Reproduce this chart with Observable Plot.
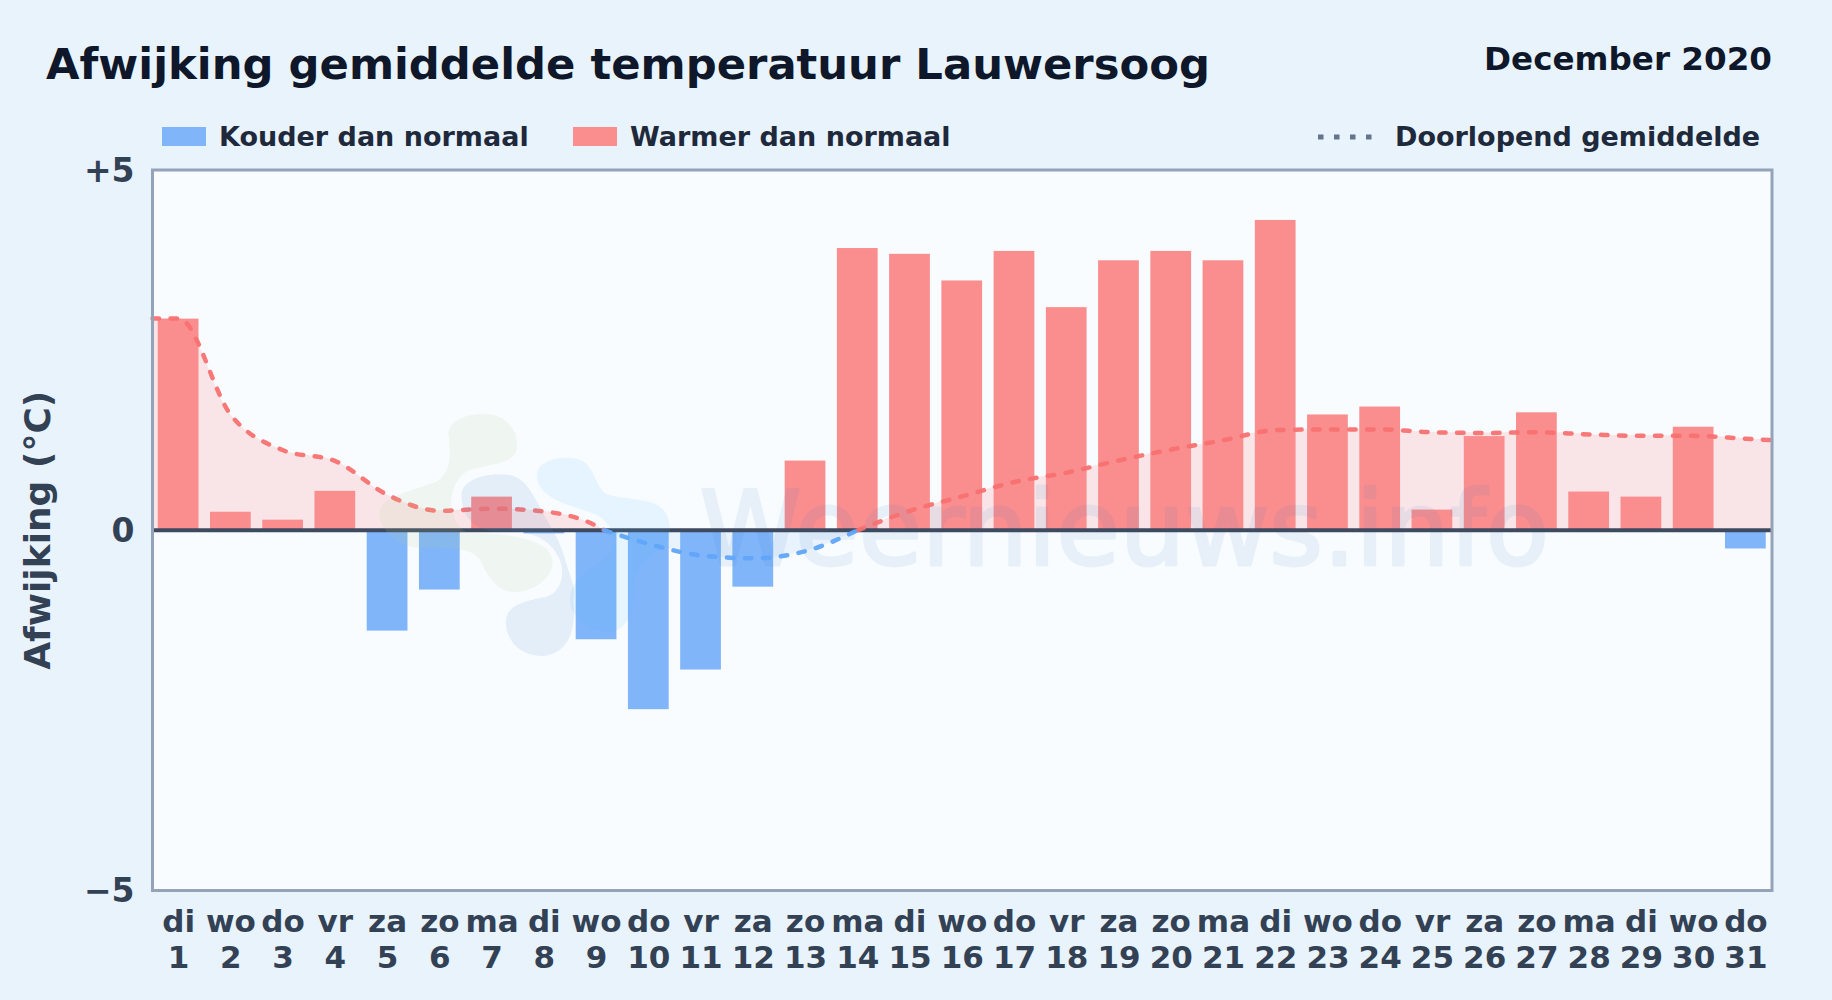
<!DOCTYPE html>
<html lang="nl">
<head>
<meta charset="utf-8">
<script src="https://cdn.jsdelivr.net/npm/d3@7"></script>
<script src="https://cdn.jsdelivr.net/npm/@observablehq/plot@0.6"></script>
<style>
  html, body { margin: 0; padding: 0; background: #e8f3fc; width: 1832px; height: 1000px; overflow: hidden; }
  body { position: relative; font-family: "DejaVu Sans", sans-serif; font-weight: 700; }
  .t { position: absolute; white-space: nowrap; line-height: 1; }
  #title { left: 46px; top: 43px; font-size: 43.3px; color: #0f172a; }
  #month { right: 60px; top: 43px; font-size: 32.6px; color: #0f172a; }
  .leg { font-size: 27px; color: #1e293b; top: 123px; }
  .sw { position: absolute; top: 127px; width: 44px; height: 19px; }
  #chart { position: absolute; left: 0; top: 120px; }
  #chart svg { overflow: visible; display: block; }
  #logo { position: absolute; left: 0; top: 0; pointer-events: none; }
</style>
</head>
<body>
<div class="t" id="title"></div>
<div class="t" id="month"></div>
<div class="sw" style="left:162px;background:#80b5fa"></div>
<div class="t leg" id="legCold" style="left:219px"></div>
<div class="sw" style="left:573px;background:#fa8d8e"></div>
<div class="t leg" id="legWarm" style="left:630px"></div>
<svg id="legLine" class="t" style="left:1316px;top:130px" width="62" height="14"></svg>
<div class="t leg" id="legMean" style="left:1395px"></div>
<div id="chart"></div>
<svg id="logo" width="1832" height="1000">
  <g transform="translate(370 400) scale(.33333)">
    <path fill="#b9d18a" fill-opacity=".12" d="M235 100 C240 50 320 35 370 45 C420 55 450 110 440 150 C430 190 370 190 300 210 C260 225 240 280 245 320 C255 380 280 395 300 400 C400 400 520 410 545 470 C565 530 480 585 420 575 C370 565 350 520 330 480 C300 430 200 450 120 440 C60 420 20 370 30 330 C40 290 130 270 200 245 C240 220 245 170 235 100Z"/>
    <path fill="#5b8cc4" fill-opacity=".12" d="M275 280 C280 235 360 215 420 225 C470 235 490 290 510 320 C530 365 560 400 580 460 C595 520 620 560 610 600 C620 680 600 760 520 768 C450 770 405 720 408 660 C412 610 480 600 530 590 C575 575 585 520 570 480 C540 410 470 390 400 395 C310 400 270 340 275 280Z"/>
    <path fill="#55b4f5" fill-opacity=".11" d="M500 225 C505 175 590 165 630 180 C670 195 670 240 700 275 C730 300 830 290 870 320 C910 350 910 430 870 450 C820 470 790 520 790 580 C790 640 770 690 720 695 C660 700 600 650 600 600 C600 550 640 520 700 480 C750 440 740 380 680 345 C620 320 500 300 500 225Z"/>
  </g>
</svg>
<script>
const titleText = "Afwijking gemiddelde temperatuur Lauwersoog";
const monthText = "December 2020";
const legendCold = "Kouder dan normaal";
const legendWarm = "Warmer dan normaal";
const legendMean = "Doorlopend gemiddelde";
const axisLabel = "Afwijking (°C)";
const watermark = "Weernieuws.info";

const days = [1,2,3,4,5,6,7,8,9,10,11,12,13,14,15,16,17,18,19,20,21,22,23,24,25,26,27,28,29,30,31];
const weekdays = ["di","wo","do","vr","za","zo","ma","di","wo","do","vr","za","zo","ma","di","wo","do","vr","za","zo","ma","di","wo","do","vr","za","zo","ma","di","wo","do"];
const deviations = [2.93,0.25,0.14,0.54,-1.40,-0.83,0.46,-0.05,-1.52,-2.49,-1.94,-0.79,0.96,3.91,3.83,3.46,3.87,3.09,3.74,3.87,3.74,4.30,1.60,1.71,0.28,1.30,1.63,0.53,0.46,1.43,-0.26];
const runningDay = [0.5,1,2,3,4,5,6,7,8,9,9.15,10,11,12,13,14,15,16,17,18,19,20,21,22,23,24,25,26,27,28,29,30,31,31.5];
const runningMean = [2.94,2.94,1.6,1.11,0.96,0.49,0.27,0.30,0.26,0.06,0,-0.19,-0.35,-0.39,-0.29,0,0.27,0.47,0.67,0.80,0.97,1.12,1.25,1.39,1.40,1.40,1.36,1.35,1.36,1.33,1.31,1.31,1.27,1.25];
const yTicks = [-5,0,5];

const bars = days.map((d,i)=>({day:d, value:deviations[i]}));
// split the running mean at its zero crossings so each stretch keeps one colour
const running = [];
let seg = 0;
runningDay.forEach((d,i)=>{
  const v = runningMean[i];
  running.push({day:d, value:v, seg, warm: v>0 || (v===0 && runningMean[i-1]>0)});
  if (v===0) { seg++; running.push({day:d, value:v, seg, warm: runningMean[i+1]>0}); }
});
const warmRun = running.filter(r=>r.warm), coldRun = running.filter(r=>!r.warm);

const RED="#f87171", BLUE="#60a5fa";
const halfBar = 0.39;
const plot = Plot.plot({
  width: 1832, height: 880,
  marginLeft: 152, marginRight: 60.5, marginTop: 49.5, marginBottom: 110,
  style: {fontFamily: '"DejaVu Sans", sans-serif', background: "transparent", overflow: "visible"},
  x: {type:"linear", domain:[0.5,31.5], label:null},
  y: {domain:[-5,5], label:null},
  marks: [
    Plot.frame({fill:"#f8fcff"}),
    Plot.areaY(warmRun,{x:"day",y:"value",z:"seg",curve:"monotone-x",fill:"#ff7070",fillOpacity:.16}),
    Plot.areaY(coldRun,{x:"day",y:"value",z:"seg",curve:"monotone-x",fill:BLUE,fillOpacity:.1}),
    Plot.rectY(bars,{x1:d=>d.day-halfBar,x2:d=>d.day+halfBar,y1:0,y2:"value",fill:d=>d.value<0?"#80b5fa":"#fa8d8e"}),
    Plot.text([watermark],{x:19.1,y:0,text:d=>d,fontSize:103,fontWeight:400,fill:"#3b7ac6",stroke:"#3b7ac6",strokeWidth:3,opacity:.085,dy:1.5}),
    Plot.ruleY([0],{stroke:"#3e4a60",strokeWidth:4}),
    Plot.line(warmRun,{x:"day",y:"value",z:"seg",curve:"monotone-x",stroke:RED,strokeWidth:4.5,strokeOpacity:.95,strokeDasharray:"6.5 11.5",strokeLinecap:"round"}),
    Plot.line(coldRun,{x:"day",y:"value",z:"seg",curve:"monotone-x",stroke:BLUE,strokeWidth:4.5,strokeOpacity:.95,strokeDasharray:"6.5 11.5",strokeLinecap:"round"}),
    Plot.frame({stroke:"#94a3b8",strokeWidth:3}),
    Plot.axisY({ticks:yTicks,tickSize:0,tickPadding:18,fontSize:33,dy:1,fontWeight:700,color:"#334155",label:null,
      tickFormat:d=>d>0?"+"+d:d<0?"\u2212"+(-d):"0"}),
    Plot.axisX({ticks:days,tickSize:0,tickPadding:16,fontSize:31,fontWeight:700,color:"#334155",label:null,lineHeight:1.16,
      tickFormat:d=>weekdays[d-1]+"\n"+d}),
    Plot.text([axisLabel],{frameAnchor:"left",rotate:-90,dx:-114,textAnchor:"middle",text:d=>d,fontSize:36,fontWeight:700,fill:"#334155"})
  ]
});
document.getElementById("chart").appendChild(plot);
document.getElementById("title").textContent=titleText;
document.getElementById("month").textContent=monthText;
document.getElementById("legCold").textContent=legendCold;
document.getElementById("legWarm").textContent=legendWarm;
document.getElementById("legMean").textContent=legendMean;
d3.select("#legLine").append("line").attr("x1",2).attr("x2",60).attr("y1",7).attr("y2",7)
  .attr("stroke","#64748b").attr("stroke-width",5).attr("stroke-dasharray","5.5 10.5");
</script>
</body>
</html>
